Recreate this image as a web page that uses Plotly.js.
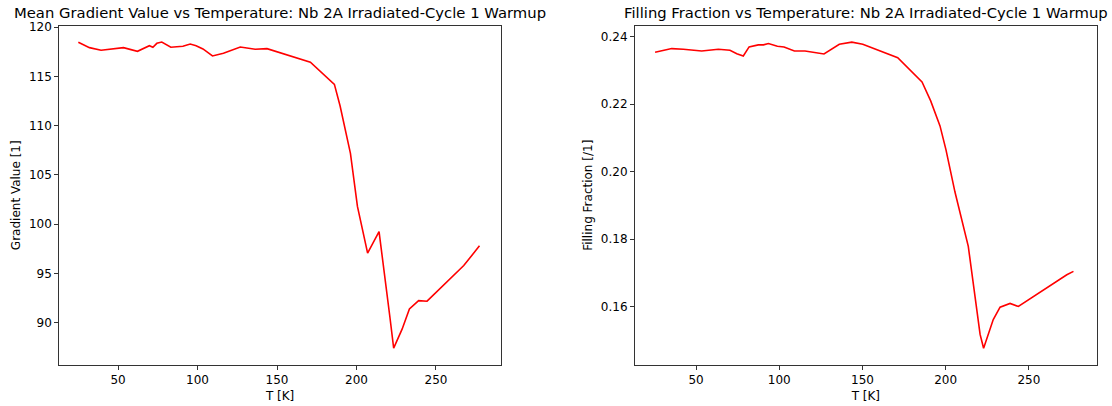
<!DOCTYPE html>
<html>
<head>
<meta charset="utf-8">
<script src="https://cdn.plot.ly/plotly-3.0.1.min.js"></script>
<style>html,body{margin:0;padding:0;background:#fff}#chart{width:1112px;height:406px}</style>
</head>
<body>
<div id="chart"></div>
<script>
const tempGradient = [25.0, 32.0, 39.3, 53.4, 62.2, 69.7, 71.9, 74.4, 77.5, 83.2, 90.8, 95.4, 99.1, 103.4, 109.4, 116.3, 126.9, 136.3, 143.7, 171.0, 186.1, 189.7, 196.2, 200.6, 207.0, 214.2, 221.0, 223.4, 228.7, 233.3, 239.1, 244.4, 267.5, 273.4, 277.4];
const gradientValue = [118.48, 117.93, 117.66, 117.93, 117.56, 118.13, 117.97, 118.37, 118.5, 117.97, 118.07, 118.3, 118.13, 117.8, 117.09, 117.36, 118.0, 117.77, 117.83, 116.45, 114.2, 112.0, 107.2, 101.8, 97.06, 99.25, 90.6, 87.41, 89.34, 91.4, 92.24, 92.18, 95.8, 97.06, 97.8];

const tempFilling = [25.4, 35.4, 42.4, 53.4, 63.4, 70.4, 74.5, 78.4, 81.9, 87.4, 90.5, 93.5, 98.9, 102.9, 109.1, 115.5, 126.9, 136.1, 143.6, 150.2, 171.2, 185.8, 191.0, 196.6, 200.2, 205.6, 213.6, 220.7, 222.8, 228.6, 232.7, 238.7, 243.7, 266.8, 272.8, 276.8];
const fillingFraction = [0.2354, 0.2365, 0.2363, 0.2358, 0.2363, 0.2360, 0.2350, 0.2343, 0.2370, 0.2376, 0.2376, 0.2380, 0.2372, 0.2370, 0.2358, 0.2358, 0.2349, 0.2378, 0.2384, 0.2378, 0.2338, 0.2266, 0.2210, 0.2136, 0.2065, 0.1940, 0.1779, 0.1518, 0.1477, 0.1562, 0.1599, 0.1610, 0.1601, 0.1676, 0.1695, 0.1705];

const xTicks = [50, 100, 150, 200, 250];
const gradTicks = [90, 95, 100, 105, 110, 115, 120];
const fillTicks = [0.16, 0.18, 0.20, 0.22, 0.24];

const titles = {
  left: "Mean Gradient Value vs Temperature: Nb 2A Irradiated-Cycle 1 Warmup",
  right: "Filling Fraction vs Temperature: Nb 2A Irradiated-Cycle 1 Warmup",
  x: "T [K]",
  yLeft: "Gradient Value [1]",
  yRight: "Filling Fraction [/1]"
};

const font = {family: "DejaVu Sans, sans-serif", size: 12, color: "#000"};
const titleFont = {family: "DejaVu Sans, sans-serif", size: 14.8, color: "#000"};
const lineCol = "#333";

function axisBase() {
  return {
    showline: true, mirror: true, linecolor: lineCol, linewidth: 1,
    ticks: "outside", ticklen: 4, tickwidth: 1, tickcolor: lineCol,
    showgrid: false, zeroline: false, tickfont: font
  };
}

const traces = [
  {x: tempGradient, y: gradientValue, type: "scatter", mode: "lines",
   line: {color: "#ff0000", width: 1.6}, xaxis: "x", yaxis: "y", hoverinfo: "x+y"},
  {x: tempFilling, y: fillingFraction, type: "scatter", mode: "lines",
   line: {color: "#ff0000", width: 1.6}, xaxis: "x2", yaxis: "y2", hoverinfo: "x+y"}
];

const layout = {
  width: 1112, height: 406,
  margin: {l: 0, r: 0, t: 0, b: 0},
  paper_bgcolor: "#fff", plot_bgcolor: "#fff",
  showlegend: false,
  font: font,
  xaxis: Object.assign(axisBase(), {
    domain: [0.0533, 0.4505], range: [13.0, 290.9], tickvals: xTicks,
    title: {text: titles.x, font: font, standoff: 5}, anchor: "y"
  }),
  yaxis: Object.assign(axisBase(), {
    domain: [0.1022, 0.936], range: [85.75, 120.13], tickvals: gradTicks,
    title: {text: titles.yLeft, font: font, standoff: 5}, anchor: "x"
  }),
  xaxis2: Object.assign(axisBase(), {
    domain: [0.571, 0.9863], range: [13.3, 290.8], tickvals: xTicks,
    title: {text: titles.x, font: font, standoff: 5}, anchor: "y2"
  }),
  yaxis2: Object.assign(axisBase(), {
    domain: [0.1022, 0.936], range: [0.1429, 0.2432], tickvals: fillTicks,
    tickformat: ".2f",
    title: {text: titles.yRight, font: font, standoff: 5}, anchor: "x2"
  }),
  annotations: [
    {text: titles.left, xref: "paper", yref: "paper", x: 0.2519, y: 0.968,
     xanchor: "center", yanchor: "middle", showarrow: false, font: titleFont},
    {text: titles.right, xref: "paper", yref: "paper", x: 0.7787, y: 0.968,
     xanchor: "center", yanchor: "middle", showarrow: false, font: titleFont}
  ]
};

Plotly.newPlot("chart", traces, layout, {staticPlot: true, displayModeBar: false});
</script>
</body>
</html>
